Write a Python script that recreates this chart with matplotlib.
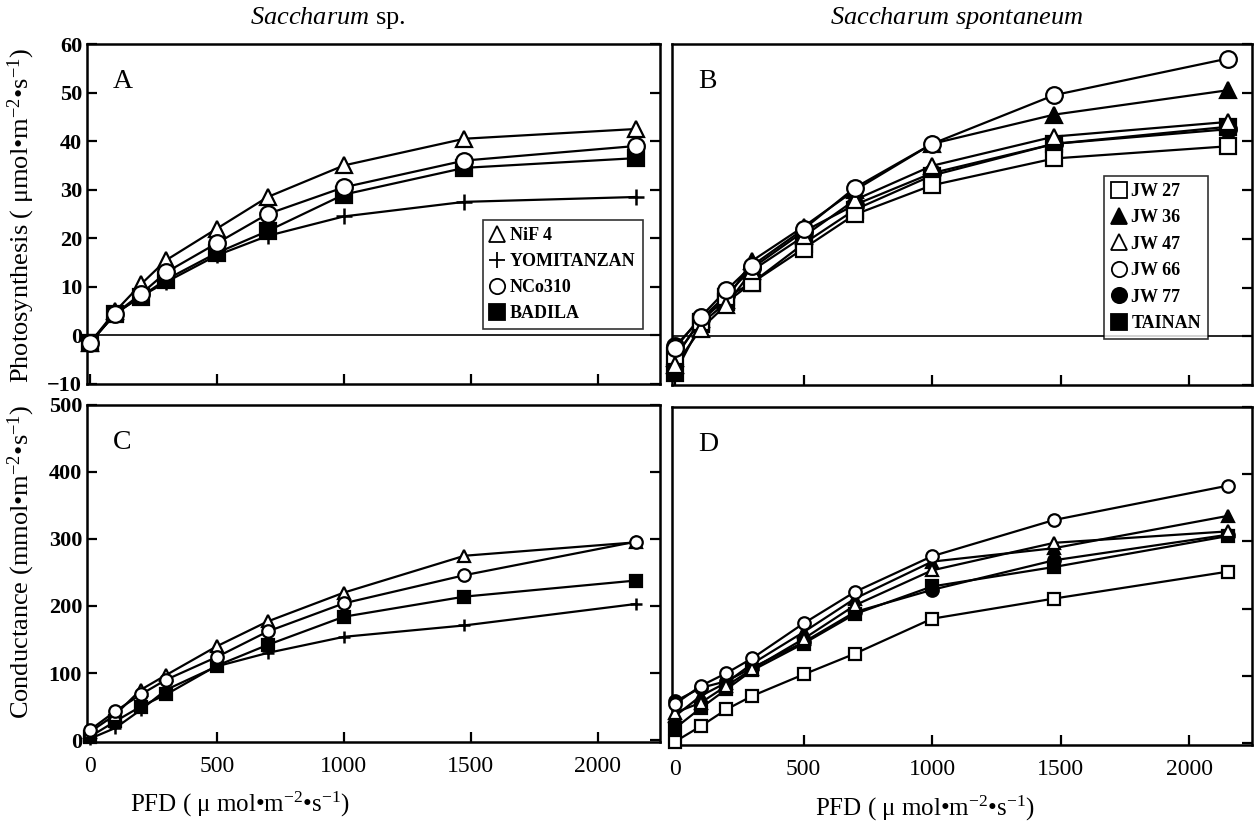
import matplotlib
matplotlib.use("Agg")
import matplotlib.pyplot as plt
from matplotlib.lines import Line2D

plt.rcParams['font.family'] = ['Liberation Serif', 'DejaVu Serif']
plt.rcParams['mathtext.fontset'] = 'custom'
plt.rcParams['mathtext.rm'] = 'Liberation Serif'
plt.rcParams['mathtext.it'] = 'Liberation Serif:italic'

# PFD levels (umol m-2 s-1)
pfd = [0, 100, 200, 300, 500, 700, 1000, 1475, 2150]

# Saccharum sp. - photosynthesis
sp_names = ["NiF 4", "YOMITANZAN", "NCo310", "BADILA"]
ps_nif4 = [-1.5, 5, 10.5, 15.5, 22, 28.5, 35, 40.5, 42.5]
ps_yomi = [-1.5, 4.5, 8, 11, 16.5, 20.5, 24.5, 27.5, 28.5]
ps_nco = [-1.5, 4.5, 8.5, 13, 19, 25, 30.5, 36, 39]
ps_badila = [-1.5, 4.5, 8, 11.5, 17, 21.5, 29, 34.5, 36.5]

# Saccharum sp. - conductance
gs_nif4 = [12, 38, 75, 97, 140, 177, 220, 275, 295]
gs_yomi = [2, 18, 45, 75, 110, 130, 154, 171, 203]
gs_nco = [15, 43, 68, 90, 124, 162, 204, 246, 296]
gs_badila = [5, 28, 50, 68, 111, 142, 184, 214, 238]

# Saccharum spontaneum - photosynthesis
spon_names = ["JW 27", "JW 36", "JW 47", "JW 66", "JW 77", "TAINAN"]
ps_jw27 = [-4, 3, 8, 11, 18, 25, 31, 36.5, 39]
ps_jw36 = [-4.5, 3.5, 7.5, 15.5, 22.5, 30, 39.5, 45.5, 50.5]
ps_jw47 = [-6, 1.5, 6.5, 13.5, 20.5, 28, 35, 41, 44]
ps_jw66 = [-2.5, 4, 9.5, 14.5, 22, 30.5, 39.5, 49.5, 57]
ps_jw77 = [-2, 3.5, 8.5, 14, 21.5, 27, 33.5, 39.5, 42.5]
ps_tainan = [-7.5, 2.5, 7, 11, 19, 26, 33, 39.5, 43]

# Saccharum spontaneum - conductance
gs_jw27 = [2, 25, 50, 70, 102, 133, 185, 215, 255]
gs_jw36 = [40, 70, 90, 118, 165, 215, 270, 290, 338]
gs_jw47 = [45, 60, 85, 110, 155, 205, 257, 298, 315]
gs_jw66 = [58, 85, 104, 126, 178, 225, 278, 332, 383]
gs_jw77 = [62, 82, 92, 112, 150, 195, 228, 272, 310]
gs_tainan = [22, 52, 80, 108, 148, 192, 233, 262, 308]

# marker, facecolor for each cultivar
sp_style = [('^', 'white'), ('+', 'black'), ('o', 'white'), ('s', 'black')]
spon_style = [('s', 'white'), ('^', 'black'), ('^', 'white'), ('o', 'white'), ('o', 'black'), ('s', 'black')]

fig = plt.figure(figsize=(12.57, 8.24), dpi=100)
axA = fig.add_axes([0.0692, 0.534, 0.4558, 0.4126])
axB = fig.add_axes([0.5346, 0.5328, 0.4614, 0.4138])
axC = fig.add_axes([0.0692, 0.0995, 0.4558, 0.409])
axD = fig.add_axes([0.5346, 0.0959, 0.4614, 0.410])


def draw(ax, series, styles, ms):
	for y in series:
		ax.plot(pfd, y, color='black', lw=1.6, zorder=2)
	for y, (m, fc) in zip(series, styles):
		if m == '+':
			ax.plot(pfd, y, ls='none', marker='+', ms=ms, mew=1.8, color='black', zorder=3, clip_on=False)
		else:
			ax.plot(pfd, y, ls='none', marker=m, ms=ms, mfc=fc, mec='black', mew=1.6, zorder=3 + (fc == 'white'), clip_on=False)


draw(axA, [ps_nif4, ps_yomi, ps_nco, ps_badila], sp_style, 12)
draw(axB, [ps_jw27, ps_jw36, ps_jw47, ps_jw66, ps_jw77, ps_tainan], spon_style, 12)
draw(axC, [gs_nif4, gs_yomi, gs_nco, gs_badila], sp_style, 9)
draw(axD, [gs_jw27, gs_jw36, gs_jw47, gs_jw66, gs_jw77, gs_tainan], spon_style, 9)

for ax in [axA, axB]:
	ax.set_ylim(-10, 60)
	ax.axhline(0, color='black', lw=1.2, zorder=1)
	ax.set_yticks([-10, 0, 10, 20, 30, 40, 50, 60])
for ax in [axC, axD]:
	ax.set_ylim(-3, 500)
	ax.set_yticks([0, 100, 200, 300, 400, 500])

for ax in [axA, axB, axC, axD]:
	ax.set_xlim(-12, 2245)
	ax.set_xticks([0, 500, 1000, 1500, 2000])
	for s in ax.spines.values():
		s.set_linewidth(1.8)
	ax.tick_params(direction='in', length=7, width=1.6, right=True, top=False, labelsize=15)

for ax in [axA, axB]:
	ax.tick_params(labelbottom=False)
for ax in [axB, axD]:
	ax.tick_params(labelleft=False, left=False)
for ax in [axA, axC]:
	for t in ax.get_yticklabels():
		t.set_fontweight('bold')
		t.set_fontsize(16)
for ax in [axC, axD]:
	for t in ax.get_xticklabels():
		t.set_fontsize(17)
	ax.tick_params(axis='x', pad=10)

for ax, letter in zip([axA, axB, axC, axD], "ABCD"):
	ax.text(0.045, 0.87, letter, transform=ax.transAxes, fontsize=20)

# legends
leg_font = {'family': 'Liberation Serif', 'weight': 'bold', 'size': 13}
hA = [Line2D([], [], ls='none', marker=m, ms=11, mfc=fc, mec='black', mew=1.3, color='black') for m, fc in sp_style]
legA = axA.legend(hA, sp_names, loc='upper left', bbox_to_anchor=(0.675, 0.51), frameon=True, fancybox=False,
	edgecolor='black', handlelength=0.8, handletextpad=0.3, labelspacing=0.5, borderpad=0.4, prop=leg_font)
legA.get_frame().set_linewidth(1.2)

hB = [Line2D([], [], ls='none', marker=m, ms=11, mfc=fc, mec='black', mew=1.3, color='black') for m, fc in spon_style]
legB = axB.legend(hB, spon_names, loc='upper left', bbox_to_anchor=(0.73, 0.64), frameon=True, fancybox=False,
	edgecolor='black', handlelength=0.8, handletextpad=0.3, labelspacing=0.52, borderpad=0.4, prop=leg_font)
legB.get_frame().set_linewidth(1.2)

# titles
fig.text(328 / 1257, 1 - 18 / 824, r"$\mathit{Saccharum}$ sp.", ha='center', va='center', fontsize=19)
fig.text(957 / 1257, 1 - 18 / 824, r"$\mathit{Saccharum\ spontaneum}$", ha='center', va='center', fontsize=19)

# axis labels
unit = "mol•m$^{-2}$•s$^{-1}$)"
fig.text(0.017, 1 - 215 / 824, "Photosynthesis ( μ" + unit, rotation=90, ha='center', va='center', fontsize=19)
fig.text(0.017, 1 - 562 / 824, "Conductance (m" + unit, rotation=90, ha='center', va='center', fontsize=19)
fig.text(240 / 1257, 1 - 804 / 824, "PFD ( μ " + unit, ha='center', va='center', fontsize=18)
fig.text(925 / 1257, 1 - 808 / 824, "PFD ( μ " + unit, ha='center', va='center', fontsize=18)

fig.savefig("out.png", dpi=100)
